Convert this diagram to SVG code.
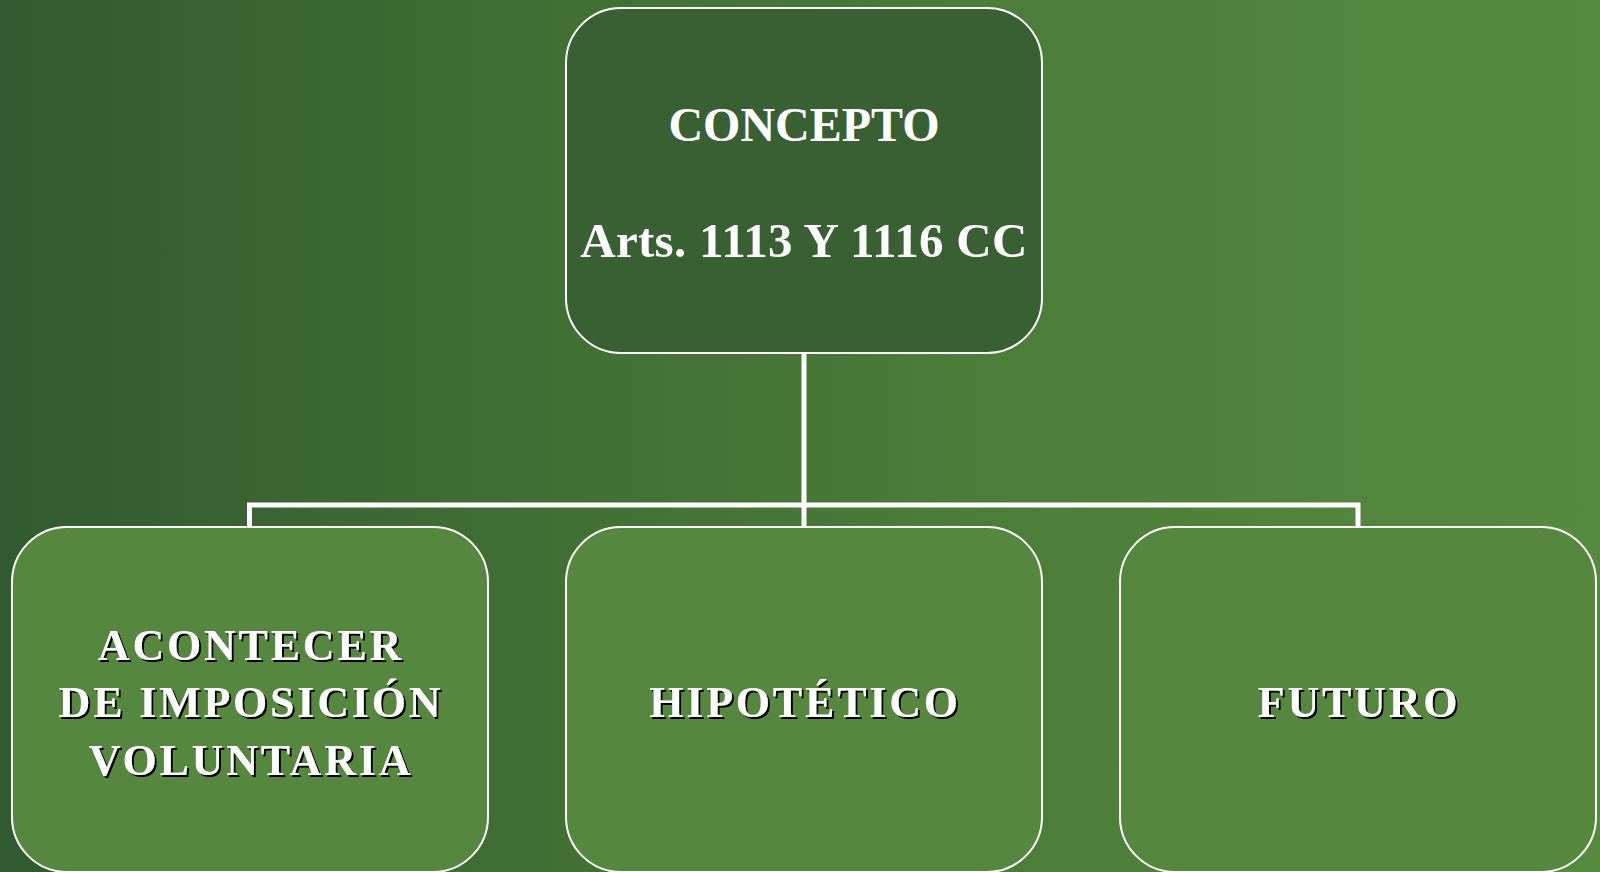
<svg xmlns="http://www.w3.org/2000/svg" width="1600" height="872" viewBox="0 0 1600 872">
<defs>
<linearGradient id="bg" x1="0" y1="0" x2="1" y2="0">
<stop offset="0" stop-color="#325a30"/>
<stop offset="0.25" stop-color="#3d6a33"/>
<stop offset="0.6" stop-color="#4b7c38"/>
<stop offset="1" stop-color="#568a3f"/>
</linearGradient>
<filter id="sh" x="-10%" y="-20%" width="120%" height="140%">
<feOffset in="SourceAlpha" dx="2" dy="2" result="o"/>
<feFlood flood-color="#000"/>
<feComposite in2="o" operator="in" result="s"/>
<feMerge><feMergeNode in="s"/><feMergeNode in="SourceGraphic"/></feMerge>
</filter>
</defs>
<style>
.box{stroke:#fff;stroke-width:2}
.top{fill:#386032}
.bot{fill:#56873e}
.t{font-family:"Liberation Serif","Times New Roman",serif;font-weight:bold;fill:#fff;text-anchor:middle}
.big{font-size:48px}
.lab{font-size:44px;letter-spacing:2.8px}
.conn{fill:none;stroke:#fff;stroke-width:5}
</style>
<rect x="0" y="0" width="1600" height="872" fill="url(#bg)"/>
<g id="connectors">
<path class="conn" d="M804 353 V527 M249.5 527 V505 H1358 V527"/>
</g>
<g id="concepto">
<rect class="box top" x="566" y="8" width="476" height="345" rx="55"/>
<text class="t big" x="804" y="141">CONCEPTO</text>
<text class="t big" x="804" y="257" style="font-size:49px;letter-spacing:0.3px">Arts. 1113 Y 1116 CC</text>
</g>
<g id="acontecer">
<rect class="box bot" x="12" y="527" width="476" height="345" rx="55"/>
<g filter="url(#sh)">
<text class="t lab" x="251" y="660">ACONTECER</text>
<text class="t lab" x="251" y="717">DE IMPOSICIÓN</text>
<text class="t lab" x="251" y="775">VOLUNTARIA</text>
</g>
</g>
<g id="hipotetico">
<rect class="box bot" x="566" y="527" width="476" height="345" rx="55"/>
<text class="t lab" x="805" y="717" filter="url(#sh)">HIPOTÉTICO</text>
</g>
<g id="futuro">
<rect class="box bot" x="1120" y="527" width="476" height="345" rx="55"/>
<text class="t lab" x="1359" y="717" filter="url(#sh)">FUTURO</text>
</g>
</svg>
